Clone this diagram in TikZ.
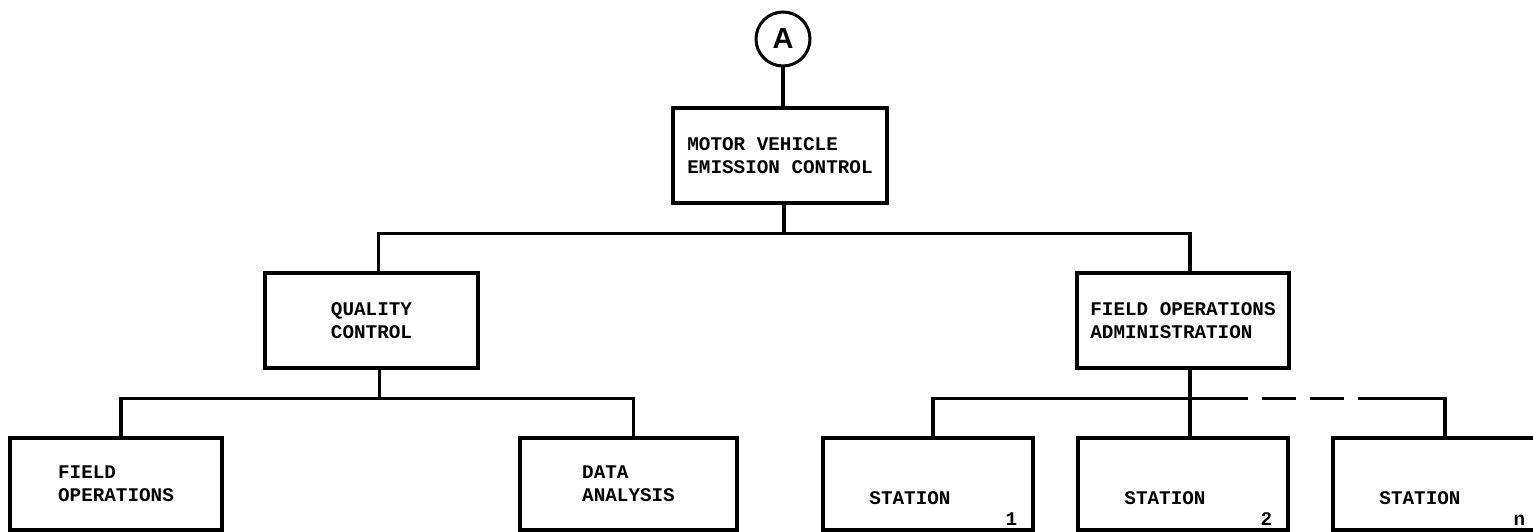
\documentclass[tikz,border=0pt]{standalone}
\usepackage{fontspec}
\setmainfont{Liberation Serif}
\newfontfamily\typefont{Liberation Mono}
\newfontfamily\headfont{Liberation Sans}
\usetikzlibrary{positioning}

\begin{document}
\begin{tikzpicture}[
    x=1pt, y=-1pt,
    box/.style     = {draw, line width=3.2pt, inner sep=0pt,
                      minimum width=213pt, minimum height=95pt,
                      font=\typefont\bfseries\fontsize{19.3}{23}\selectfont, align=left},
    stbox/.style   = {box, minimum width=210pt, minimum height=92pt},
    stname/.style  = {font=\typefont\bfseries\fontsize{19.3}{23}\selectfont,
                      xshift=-18pt, yshift=-14pt},
    stnum/.style   = {font=\typefont\bfseries\fontsize{19.3}{23}\selectfont,
                      anchor=base east, xshift=-14pt, yshift=6pt},
    link/.style    = {line width=3.2pt, line join=miter},
    gap/.style     = {line width=3.2pt, dash pattern=on 34pt off 14pt},
  ]
  \useasboundingbox (0,0) rectangle (1533,532);
  \clip (0,0) rectangle (1533,532);

  % connector and head office
  \node[draw, circle, line width=3pt, minimum size=54pt, inner sep=0pt,
        font=\headfont\bfseries\fontsize{29}{29}\selectfont] (conn) at (783,39) {A};
  \node[box, minimum width=214pt] (mvec) at (780,155.5) {MOTOR VEHICLE\\EMISSION CONTROL};

  % second level
  \node[box] (qc) at (371.5,320.5) {QUALITY\\CONTROL};
  \node[box, minimum width=212pt] (foa) at (1183,320.5) {FIELD OPERATIONS\\ADMINISTRATION};

  % third level
  \node[box, minimum width=212pt, minimum height=92pt] (fops) at (116,484) {FIELD\\OPERATIONS};
  \node[box, minimum width=217pt, minimum height=92pt] (data) at (628.5,484) {DATA\\ANALYSIS};
  \node[stbox, label={[stname]center:STATION}, label={[stnum]south east:1}] (st1) at (928,484) {};
  \node[stbox, label={[stname]center:STATION}, label={[stnum]south east:2}] (st2) at (1183,484) {};
  \node[stbox, label={[stname]center:STATION}, label={[stnum, xshift=-2pt]south east:n}] (stn) at (1438,484) {};

  % tree lines
  \draw[link] (conn.south) -- (conn.south |- mvec.north);
  \draw[link] ([xshift=4pt]mvec.south) -- ++(0,29) coordinate (hub1);
  \draw[link] ([xshift=7pt]qc.north) |- (hub1) -| ([xshift=7pt]foa.north);

  \draw[link] ([xshift=8pt]qc.south) -- ++(0,29) coordinate (hub2);
  \draw[link] ([xshift=5pt]fops.north) |- (hub2) -| ([xshift=5pt]data.north);

  \draw[link] ([xshift=7pt]foa.south) -- ++(0,29) coordinate (hub3);
  \draw[link] ([xshift=5pt]st1.north) |- (hub3) -- ([xshift=7pt]st2.north);
  \draw[link] (hub3) -- ++(24,0) coordinate (dashL);
  \draw[gap] (dashL) -- ++(169,0) coordinate (dashR);
  \draw[link] (dashR) -| ([xshift=7pt]stn.north);
\end{tikzpicture}
\end{document}
